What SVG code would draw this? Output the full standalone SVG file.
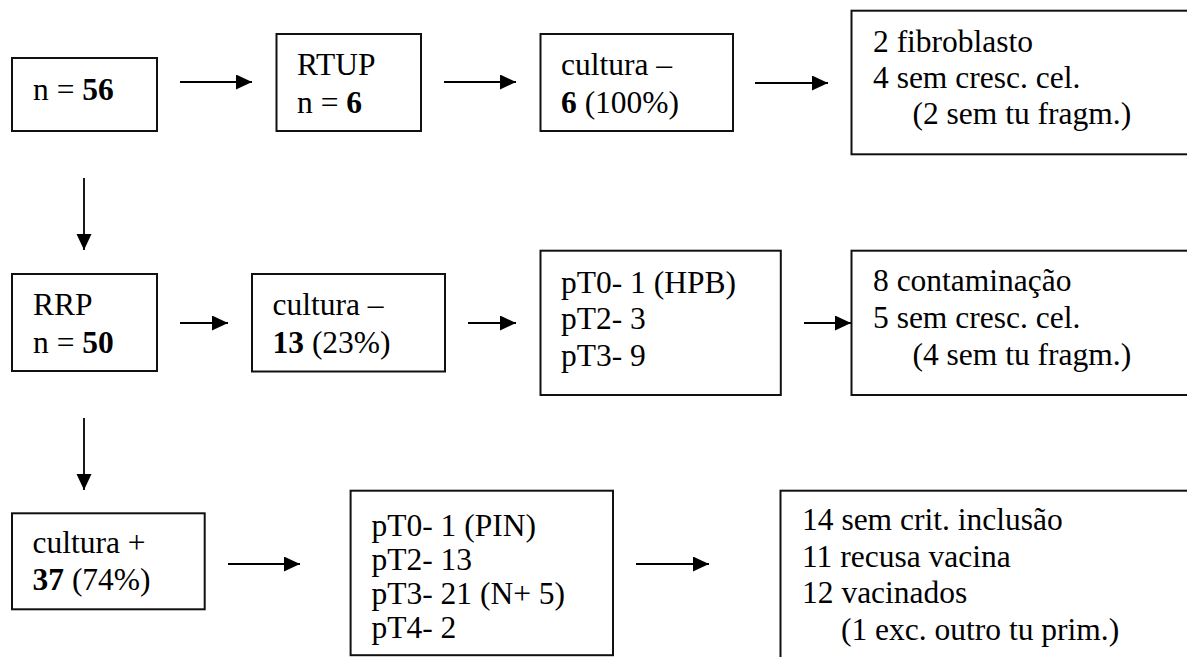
<svg xmlns="http://www.w3.org/2000/svg" width="1187" height="657" viewBox="0 0 1187 657">
<style>
.box{fill:#fff;stroke:#111;stroke-width:2}
.t{font-family:'Liberation Serif',Tinos,'DejaVu Serif',serif;font-size:31.5px;fill:#000}
.b{font-weight:bold}
.c{stroke:#000;stroke-width:1.8;fill:none}
</style>
<defs>
<marker id="ah" markerUnits="userSpaceOnUse" markerWidth="17" markerHeight="16" refX="16" refY="7.5" orient="auto">
<path d="M0,0 L16,7.5 L0,15 Z" fill="#000"/>
</marker>
</defs>
<rect width="1187" height="657" fill="#fff"/>
<g id="connectors">
<line class="c" x1="180" y1="82" x2="252" y2="82" marker-end="url(#ah)"/>
<line class="c" x1="444" y1="82" x2="516" y2="82" marker-end="url(#ah)"/>
<line class="c" x1="755" y1="83" x2="828" y2="83" marker-end="url(#ah)"/>
<line class="c" x1="84" y1="178" x2="84" y2="250" marker-end="url(#ah)"/>
<line class="c" x1="180" y1="323" x2="228" y2="323" marker-end="url(#ah)"/>
<line class="c" x1="468" y1="323" x2="516" y2="323" marker-end="url(#ah)"/>
<line class="c" x1="804" y1="323" x2="851" y2="323" marker-end="url(#ah)"/>
<line class="c" x1="84" y1="418" x2="84" y2="490" marker-end="url(#ah)"/>
<line class="c" x1="228" y1="564" x2="300" y2="564" marker-end="url(#ah)"/>
<line class="c" x1="636" y1="564" x2="709" y2="564" marker-end="url(#ah)"/>
</g>
<g id="nA" font-family="Liberation Serif">
<rect class="box" x="12" y="58" width="145" height="73"/>
<text class="t" x="33" y="100">n = <tspan class="b">56</tspan></text>
</g>
<g id="nB">
<rect class="box" x="276.5" y="34" width="144.5" height="97"/>
<text class="t" x="297" y="75">RTUP</text>
<text class="t" x="297" y="113">n = <tspan class="b">6</tspan></text>
</g>
<g id="nC">
<rect class="box" x="540.5" y="34" width="192.5" height="97"/>
<text class="t" x="561" y="75">cultura –</text>
<text class="t" x="561" y="113"><tspan class="b">6</tspan> (100%)</text>
</g>
<g id="nD">
<rect class="box" x="851.5" y="10.7" width="400" height="143.6"/>
<text class="t" x="873" y="52">2 fibroblasto</text>
<text class="t" x="873" y="88">4 sem cresc. cel.</text>
<text class="t" x="912.5" y="124">(2 sem tu fragm.)</text>
</g>
<g id="nE">
<rect class="box" x="12" y="274" width="145" height="97"/>
<text class="t" x="33" y="315">RRP</text>
<text class="t" x="33" y="353">n = <tspan class="b">50</tspan></text>
</g>
<g id="nF">
<rect class="box" x="252" y="274" width="193" height="97.5"/>
<text class="t" x="272.5" y="315">cultura –</text>
<text class="t" x="272.5" y="353"><tspan class="b">13</tspan> (23%)</text>
</g>
<g id="nG">
<rect class="box" x="540.5" y="250.7" width="240.3" height="144.3"/>
<text class="t" x="561" y="293">pT0- 1 (HPB)</text>
<text class="t" x="561" y="329">pT2- 3</text>
<text class="t" x="561" y="366">pT3- 9</text>
</g>
<g id="nH">
<rect class="box" x="851.5" y="250.7" width="400" height="144.3"/>
<text class="t" x="873" y="291">8 contaminação</text>
<text class="t" x="873" y="328">5 sem cresc. cel.</text>
<text class="t" x="912.5" y="365">(4 sem tu fragm.)</text>
</g>
<g id="nI">
<rect class="box" x="12" y="513.3" width="192.7" height="96"/>
<text class="t" x="32.5" y="553">cultura +</text>
<text class="t" x="32.5" y="590"><tspan class="b">37</tspan> (74%)</text>
</g>
<g id="nJ">
<rect class="box" x="350.6" y="490.7" width="262.4" height="164.5"/>
<text class="t" x="371.5" y="536">pT0- 1 (PIN)</text>
<text class="t" x="371.5" y="570">pT2- 13</text>
<text class="t" x="371.5" y="604">pT3- 21 (N+ 5)</text>
<text class="t" x="371.5" y="638">pT4- 2</text>
</g>
<g id="nK">
<rect class="box" x="780.5" y="490.7" width="500" height="300"/>
<text class="t" x="802" y="530">14 sem crit. inclusão</text>
<text class="t" x="802" y="567">11 recusa vacina</text>
<text class="t" x="802" y="603">12 vacinados</text>
<text class="t" x="841" y="640">(1 exc. outro tu prim.)</text>
</g>
</svg>
